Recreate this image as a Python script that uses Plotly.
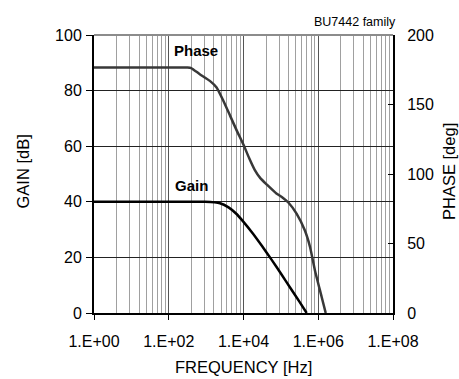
import plotly.graph_objects as go

# ---- data ----
gain_logf = [0, 1, 2, 2.5, 2.97, 3.37, 3.6, 3.8, 4.0, 4.25, 4.5, 4.75, 5.0, 5.25, 5.5, 5.69]
gain_db = [40, 40, 40, 40, 40, 39.5, 38.0, 35.8, 32.8, 28.6, 24.0, 19.2, 14.2, 9.1, 4.0, 0]

phase_logf = [0, 1, 2, 2.5, 2.6, 2.83, 3.10, 3.28, 3.46, 3.64, 3.82, 4.0, 4.15, 4.30, 4.45,
              4.62, 4.88, 5.05, 5.20, 5.42, 5.64, 5.78, 5.91, 6.09, 6.20]
phase_deg = [176.6, 176.6, 176.6, 176.6, 176.2, 171.8, 167, 162.2, 152.7, 142, 131.2, 121, 111.5, 103, 97,
             92.5, 86, 83, 79.5, 71.5, 59.5, 47.5, 30.8, 11.7, 0]

x_tickvals = [1, 1e2, 1e4, 1e6, 1e8]
x_ticktext = ["1.E+00", "1.E+02", "1.E+04", "1.E+06", "1.E+08"]
gain_ticks = [0, 20, 40, 60, 80, 100]
phase_ticks = [0, 50, 100, 150, 200]

gain_f = [10 ** v for v in gain_logf]
phase_f = [10 ** v for v in phase_logf]

# minor grid (Excel base-100 log axis style)
minor_vals = []
for n in range(4):
    for k in range(2, 10):
        minor_vals.append((k * k) * 100 ** n)

FONT = "Liberation Sans, Arial, sans-serif"

fig = go.Figure()
fig.add_trace(go.Scatter(x=phase_f, y=phase_deg, mode="lines", yaxis="y2",
                         line=dict(color="#383838", width=2.5, shape="spline", smoothing=0.5),
                         showlegend=False, hoverinfo="skip"))
fig.add_trace(go.Scatter(x=gain_f, y=gain_db, mode="lines",
                         line=dict(color="#000000", width=2.5, shape="spline", smoothing=0.5),
                         showlegend=False, hoverinfo="skip"))

fig.update_layout(
    width=459, height=379,
    margin=dict(l=94, r=66, t=35, b=66, autoexpand=False),
    paper_bgcolor="white", plot_bgcolor="white",
    font=dict(family=FONT, size=16, color="black"),
    xaxis=dict(type="log", range=[0, 8], tickmode="array", tickvals=x_tickvals, ticktext=x_ticktext,
               showgrid=True, gridcolor="#555555", gridwidth=1,
               minor=dict(tickmode="array", tickvals=minor_vals, showgrid=True,
                          gridcolor="#a0a0a0", gridwidth=1, ticks=""),
               showline=True, linecolor="black", linewidth=2,
               ticks="outside", ticklen=5, tickcolor="black", tickwidth=1,
               ticklabelstandoff=8, zeroline=False),
    yaxis=dict(range=[0, 100], tickvals=gain_ticks,
               showgrid=True, gridcolor="#222222", gridwidth=1.3,
               showline=True, linecolor="black", linewidth=2,
               ticks="outside", ticklen=6, tickcolor="black",
               ticklabelstandoff=1, zeroline=False),
    yaxis2=dict(range=[0, 200], overlaying="y", side="right", tickvals=phase_ticks,
                showgrid=False, showline=True, linecolor="black", linewidth=2,
                ticks="inside", ticklen=5, tickcolor="black",
                ticklabelstandoff=9, zeroline=False),
    shapes=[dict(type="line", xref="paper", yref="paper", x0=0, x1=1, y0=1, y1=1,
                 line=dict(color="#8c8c8c", width=2))],
    annotations=[
        dict(text="BU7442 family", xref="paper", yref="paper", x=(398 - 94) / 299, y=(313 - 13) / 278,
             xanchor="right", yanchor="top", showarrow=False, font=dict(size=12.5)),
        dict(text="<b>Phase</b>", xref="x", yref="y", x=2.73, y=94.3,
             xanchor="center", yanchor="middle", showarrow=False, font=dict(size=15)),
        dict(text="<b>Gain</b>", xref="x", yref="y", x=2.62, y=45.9,
             xanchor="center", yanchor="middle", showarrow=False, font=dict(size=15)),
        dict(text="GAIN [dB]", xref="paper", yref="paper", x=(22.5 - 94) / 299, y=(313 - 172) / 278,
             xanchor="center", yanchor="middle", textangle=-90, showarrow=False, font=dict(size=16.5)),
        dict(text="PHASE [deg]", xref="paper", yref="paper", x=(449 - 94) / 299, y=(313 - 172) / 278,
             xanchor="center", yanchor="middle", textangle=-90, showarrow=False, font=dict(size=16.5)),
        dict(text="FREQUENCY [Hz]", xref="paper", yref="paper", x=0.5, y=(313 - 367) / 278,
             xanchor="center", yanchor="middle", showarrow=False, font=dict(size=16.5)),
    ],
)

fig.write_html("out.html", config={"displayModeBar": False},
               post_script="document.body.style.margin='0';document.body.style.overflow='hidden';")
